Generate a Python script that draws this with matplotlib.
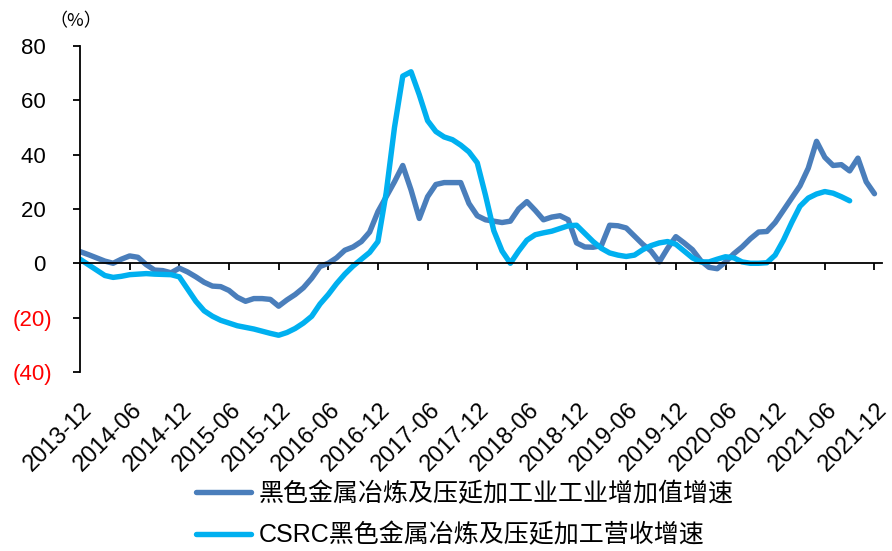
import numpy as np
import matplotlib
matplotlib.use("Agg")
import matplotlib.pyplot as plt
from matplotlib.transforms import ScaledTranslation
from matplotlib.font_manager import FontProperties

plt.rcParams["font.family"] = ["Liberation Sans", "Noto Sans CJK SC", "DejaVu Sans"]

# monthly, 2013-12 .. 2021-12
value_added = [
    4.3, 3.2, 2.0, 0.8, 0.0, 1.5, 2.7, 2.2, -0.5, -2.5,
    -2.7, -3.5, -1.8, -3.2, -5.0, -7.0, -8.4, -8.6, -10.0, -12.5,
    -14.0, -13.0, -13.0, -13.3, -15.8, -13.5, -11.5, -9.0, -5.5, -1.2,
    0.0, 2.0, 4.8, 6.0, 8.0, 11.5, 19.0, 24.5, 30.0, 36.0,
    27.0, 16.5, 24.5, 29.0, 29.7, 29.7, 29.7, 22.0, 17.5, 16.0,
    15.5, 15.0, 15.5, 20.0, 22.7, 19.5, 16.0, 17.0, 17.5, 16.0,
    7.5, 6.0, 5.9, 6.5, 14.0, 13.8, 13.0, 10.0, 7.0, 4.5,
    0.5, 5.5, 9.8, 7.5, 5.0, 1.0, -1.5, -2.0, 0.5, 3.5,
    6.0, 9.0, 11.5, 11.7, 15.0, 19.5, 24.0, 28.5, 35.0, 44.9,
    39.0, 36.0, 36.3, 34.0, 38.7, 30.0, 25.6,
]
# monthly, 2013-12 .. 2021-09
revenue = [
    1.5, -0.5, -2.5, -4.5, -5.2, -4.8, -4.2, -4.0, -3.8, -4.0,
    -4.1, -4.2, -5.0, -9.5, -14.0, -17.5, -19.5, -21.0, -22.0, -23.0,
    -23.6, -24.2, -25.0, -25.8, -26.5, -25.5, -24.0, -22.0, -19.5, -15.0,
    -11.5, -7.5, -4.0, -1.0, 1.5, 4.0, 8.0, 26.0, 50.0, 68.9,
    70.5, 62.0, 52.5, 48.5, 46.5, 45.5, 43.5, 41.0, 37.0, 25.0,
    12.0, 4.5, 0.0, 4.5, 8.5, 10.5, 11.2, 11.8, 12.8, 13.8,
    14.0, 11.0, 8.0, 5.5, 3.8, 3.0, 2.5, 3.0, 5.0, 6.5,
    7.5, 8.0, 7.0, 4.5, 2.0, 0.5, 0.5, 1.5, 2.4, 2.0,
    0.5, 0.0, 0.0, 0.2, 3.0, 8.5, 15.0, 21.0, 24.0, 25.5,
    26.4, 25.8, 24.5, 23.0,
]
tick_labels = [
    "2013-12", "2014-06", "2014-12", "2015-06", "2015-12", "2016-06",
    "2016-12", "2017-06", "2017-12", "2018-06", "2018-12", "2019-06",
    "2019-12", "2020-06", "2020-12", "2021-06", "2021-12",
]
y_ticks = [80, 60, 40, 20, 0, -20, -40]
y_labels = ["80 ", "60 ", "40 ", "20 ", "0 ", "(20)", "(40)"]
series_names = ["黑色金属冶炼及压延加工业工业增加值增速", "CSRC黑色金属冶炼及压延加工营收增速"]

fig = plt.figure(figsize=(8.92, 5.51), dpi=100)
ax = fig.add_axes([0.0897, 0.325, 0.899, 0.5916])

ax.plot(np.arange(len(value_added)), value_added, color="#4a7ebb", lw=3.9,
        solid_capstyle="round", solid_joinstyle="round", label=series_names[0])
ax.plot(np.arange(len(revenue)), revenue, color="#00b0f0", lw=3.9,
        solid_capstyle="round", solid_joinstyle="round", label=series_names[1])

ax.set_xlim(0, 96.9)
ax.set_ylim(-40, 80)
ax.spines["top"].set_visible(False)
ax.spines["right"].set_visible(False)
ax.spines["left"].set_linewidth(1.3)
ax.spines["bottom"].set_position(("data", 0))
ax.spines["bottom"].set_linewidth(1.3)

ax.set_xticks(np.arange(0, 97, 6))
ax.tick_params(axis="x", direction="out", length=5, width=1.3, labelbottom=False)
ax.set_yticks(y_ticks)
ax.set_yticklabels(y_labels, fontsize=16)
ax.tick_params(axis="y", direction="out", length=5, width=1.3, pad=15)
for lbl in ax.get_yticklabels():
    if lbl.get_text().startswith("("):
        lbl.set_color("red")

sec = ax.secondary_xaxis(0)
sec.set_xticks(np.arange(0, 97, 6))
sec.set_xticklabels(tick_labels, fontsize=17, rotation=45, ha="right",
                    va="center", rotation_mode="anchor")
sec.tick_params(length=0, pad=25)
sec.spines["bottom"].set_visible(False)
shift = ScaledTranslation(0.09, 0, fig.dpi_scale_trans)
for lbl in sec.get_xticklabels():
    lbl.set_transform(lbl.get_transform() + shift)

fig.text(0.055, 0.952, "（%）", fontsize=13, family=["Noto Sans CJK SC", "DejaVu Sans"])

fig.legend(loc="upper left", bbox_to_anchor=(0.194, 0.167),
           frameon=False, handlelength=2.2, handletextpad=0.32, labelspacing=0.68,
           prop=FontProperties(family=["Liberation Sans", "Noto Sans CJK SC"], size=18))

fig.savefig("out.png", dpi=100)
